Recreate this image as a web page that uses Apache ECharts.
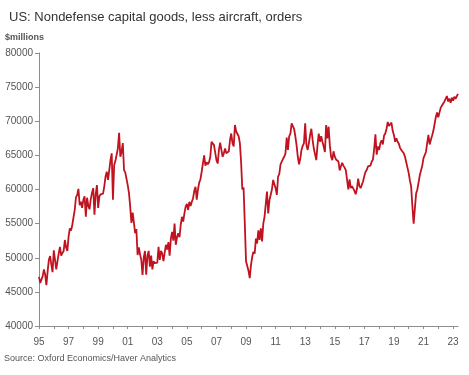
<!DOCTYPE html>
<html>
<head>
<meta charset="utf-8">
<script src="https://cdn.jsdelivr.net/npm/echarts@6/dist/echarts.min.js"></script>
<style>
  html, body { margin: 0; padding: 0; background: #fff; }
  #chart { width: 469px; height: 375px; }
</style>
</head>
<body>
<div id="chart"></div>
<script>
// monthly orders, $millions, Jan 1995 .. May 2023
const startYear = 1995;
const orders = [
  47200, 46300, 46250, 47300, 48300, 47500, 46000, 48000, 49700, 50250, 49000, 47900, // 95
  51100, 49700, 48300, 49500, 50650, 51600, 50300, 50700, 51000, 52600, 51500, 51000, // 96
  53100, 54300, 54000, 54800, 54600, 57000, 58850, 59200, 60100, 57700, 58200, 57300, // 97
  58500, 59000, 56000, 58800, 57600, 57100, 58600, 59500, 60200, 56300, 59300, 60650, // 98
  57300, 59000, 59300, 59500, 59400, 60500, 61900, 62600, 61400, 62800, 64300, 65300, // 99
  58500, 63600, 64200, 64300, 66000, 68300, 64800, 65500, 66800, 62850, 62500, 62400, // 00
  60650, 59500, 57500, 55100, 56600, 55200, 53600, 54200, 50400, 51500, 50500, 49700, // 01
  47500, 50000, 51000, 47500, 50300, 51000, 48700, 50300, 48300, 49500, 49200, 49000, // 02
  49300, 51600, 49700, 51000, 50600, 49500, 50800, 51900, 51200, 52300, 50300, 52800, // 03
  53800, 52500, 55000, 51900, 53000, 53600, 53000, 54800, 56000, 55300, 56500, 57500, // 04
  57900, 57000, 58200, 57600, 58200, 58700, 59800, 60400, 58500, 60000, 61000, 61500, // 05
  62600, 62800, 65000, 63500, 64000, 63700, 64000, 64800, 67000, 66800, 66500, 66300, // 06
  64300, 63800, 65800, 66850, 65800, 64800, 65300, 66000, 65300, 65500, 65600, 67250, // 07
  68200, 66800, 66300, 69450, 68500, 68300, 67800, 66800, 64000, 60000, 60300, 55000, // 08
  49500, 49500, 48100, 47000, 48900, 50100, 50900, 50600, 52800, 52100, 54000, 52600, // 09
  54300, 52400, 55000, 56000, 56200, 59700, 56500, 58400, 58300, 60000, 61400, 61200, // 10
  60200, 59200, 61900, 62300, 63700, 63800, 64500, 64800, 65300, 67600, 65800, 67800, // 11
  68200, 69700, 69300, 68900, 67800, 66500, 64800, 63700, 64500, 65800, 66400, 66800, // 12
  69700, 66500, 65800, 66800, 68000, 68900, 67300, 66000, 66000, 64300, 66500, 68200, // 13
  67000, 67800, 67000, 66300, 65500, 69450, 67500, 69200, 66500, 64800, 64300, 65600, // 14
  64800, 64400, 64300, 64100, 62800, 63400, 63900, 63500, 63200, 62800, 62600, 60000, // 15
  61500, 60200, 60500, 60300, 59800, 59300, 60100, 61600, 60500, 60200, 60300, 61200, // 16
  62000, 62600, 62900, 63400, 63600, 63500, 64100, 64400, 66000, 68100, 65100, 66300, // 17
  65800, 66800, 67200, 66600, 67900, 68200, 68900, 69900, 69300, 69100, 69800, 68600, // 18
  68000, 67000, 67500, 67000, 66700, 66100, 65800, 65600, 65300, 64800, 64000, 63200, // 19
  62400, 61300, 60400, 57500, 55000, 57200, 59400, 60000, 61000, 62100, 62300, 63500, // 20
  64600, 64700, 65500, 66800, 68000, 66600, 67300, 67900, 68600, 69600, 70600, 71300, // 21
  70600, 71300, 72000, 72300, 72500, 72900, 73000, 73700, 72900, 73300, 72700, 73450, // 22
  73000, 73600, 73300, 73500, 74000 // 23
];
const yTicks = { min: 40000, max: 80000, step: 5000 };

const months = orders.map((_, i) => {
  const y = startYear + Math.floor(i / 12);
  const m = (i % 12) + 1;
  return y + "-" + (m < 10 ? "0" + m : m);
});

const grey = "#8c8c8c";
const textGrey = "#555";
const font = "'Liberation Sans', 'DejaVu Sans', sans-serif";

const option = {
  animation: false,
  title: {
    text: "US: Nondefense capital goods, less aircraft, orders",
    left: 4,
    top: 6,
    textStyle: { color: "#333", fontSize: 13, fontWeight: "normal", fontFamily: font },
  },
  graphic: [
    {
      type: "text",
      left: 5,
      top: 33,
      style: { text: "$millions", fill: textGrey, font: "bold 9px " + font },
    },
    {
      type: "text",
      left: 4,
      top: 354,
      style: { text: "Source: Oxford Economics/Haver Analytics", fill: textGrey, font: "9px " + font },
    },
  ],
  grid: { left: 39, right: 11, top: 53, bottom: 49 },
  xAxis: {
    type: "category",
    data: months,
    boundaryGap: false,
    axisLine: { lineStyle: { color: grey } },
    axisTick: {
      length: 3,
      interval: (i) => i % 12 === 0,
      lineStyle: { color: grey },
    },
    axisLabel: {
      interval: (i) => i % 24 === 0,
      formatter: (v) => v.slice(2, 4),
      color: textGrey,
      fontSize: 10,
      fontFamily: font,
      margin: 11,
    },
  },
  yAxis: {
    type: "value",
    min: yTicks.min,
    max: yTicks.max,
    interval: yTicks.step,
    axisLine: { show: true, lineStyle: { color: grey } },
    axisTick: { show: true, length: 4, lineStyle: { color: grey } },
    splitLine: { show: false },
    axisLabel: {
      color: textGrey,
      fontSize: 10,
      fontFamily: font,
      margin: 6,
      formatter: (v) => String(v),
    },
  },
  series: [
    {
      type: "line",
      data: orders,
      showSymbol: false,
      lineStyle: { color: "#c0121f", width: 1.8 },
      itemStyle: { color: "#c0121f" },
    },
  ],
};

const myChart = echarts.init(document.getElementById("chart"));
myChart.setOption(option);
</script>
</body>
</html>
